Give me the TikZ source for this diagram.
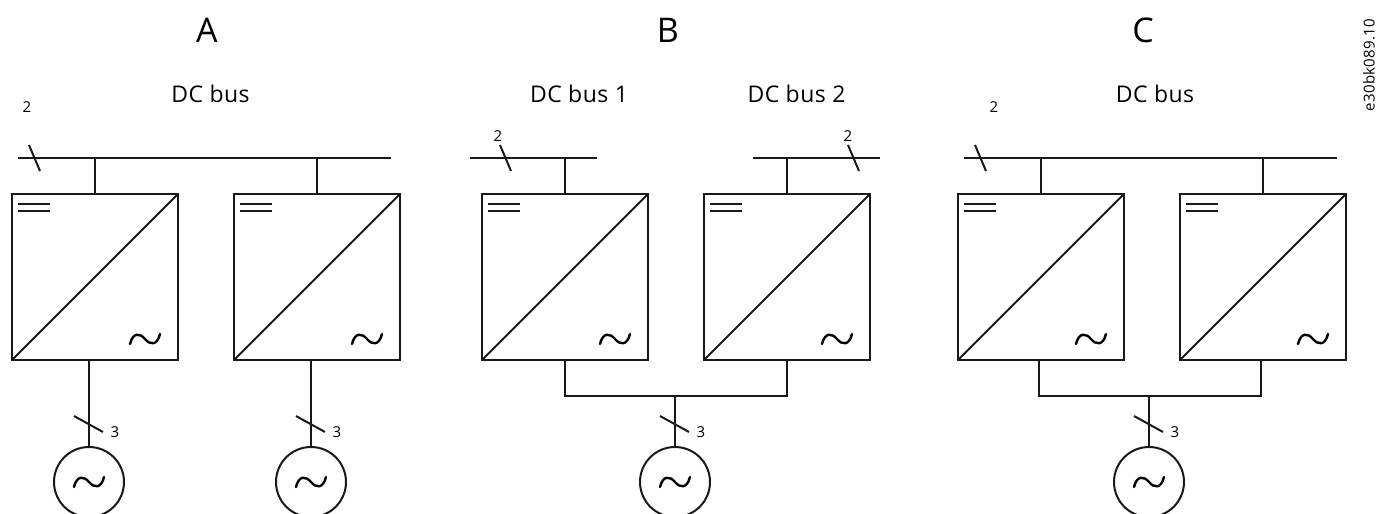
\documentclass[tikz,border=0pt]{standalone}
\usepackage{fontspec}
\setmainfont{Open Sans}
\newfontfamily\spacedfont[LetterSpace=2]{Open Sans}
\tikzset{
  x=0.5pt,y=-0.5pt,
  wire/.style={draw=black!90,line width=1pt},
  conv/.style={wire,rectangle,minimum width=83pt,minimum height=83pt,inner sep=0pt,outer sep=0pt},
  gen/.style={wire,circle,minimum size=35pt,inner sep=0pt,outer sep=0pt},
  tiny/.style={font=\fontsize{7.5}{9}\selectfont,inner sep=0pt},
  buslabel/.style={font=\spacedfont\fontsize{11.5}{13}\selectfont,inner sep=0pt,anchor=base},
  panel/.style={font=\fontsize{17}{19}\selectfont,inner sep=0pt,anchor=base},
  tilde/.pic={\draw[draw=black,line width=1.2pt,line cap=round] (-15,5) .. controls (-12,-7) and (-5,-6) .. (0,0) .. controls (5,6) and (12,7) .. (15,-5);}
}
\newcommand{\convbox}[2]{% name, left x
  \node[conv] (#1) at (#2+83,277) {};
  \draw[wire] (#1.south west) -- (#1.north east);
  \draw[wire] (#2+6,204) -- (#2+38,204);
  \draw[wire] (#2+6,211) -- (#2+38,211);
  \pic at (#2+133,339) {tilde};
}
\newcommand{\gener}[2]{% name, centre x
  \node[gen] (#1) at (#2,482) {};
  \pic at (#2,482) {tilde};
  \coordinate (#1sa) at (#2-15,416);
  \coordinate (#1sb) at (#2+14,432);
  \draw[wire] (#1sa) -- (#1sb);
  \node[tiny] (#1t) at (#2+26,432) {3};
}
\newcommand{\busslash}[4]{% name, x of slash top, x of label, y of label
  \coordinate (#1a) at (#2,145);
  \coordinate (#1b) at (#2+11,171);
  \draw[wire] (#1a) -- (#1b);
  \node[tiny] (#1t) at (#3,#4) {2};
}
\begin{document}
\begin{tikzpicture}
\useasboundingbox (0,0) rectangle (1377,514);
\begin{scope}
\clip (0,0) rectangle (1377,514);
% panel A
\node[panel] (la) at (207,42) {A};
\node[buslabel] (ba) at (210.5,102) {DC bus};
\coordinate (a0) at (18,158); \coordinate (a1) at (391,158);
\draw[wire] (a0) -- (a1);
\busslash{sa}{29}{27}{107}
\convbox{a2}{12}
\convbox{a3}{234}
\coordinate (a2s) at (95,158); \coordinate (a3s) at (317,158);
\draw[wire] (a2s) -- (a2s |- a2.north);
\draw[wire] (a3s) -- (a3s |- a3.north);
\gener{ga}{89}
\gener{gb}{311}
\draw[wire] (ga.north) -- (ga.north |- a2.south);
\draw[wire] (gb.north) -- (gb.north |- a3.south);
% panel B
\node[panel] (lb) at (668,42) {B};
\node[buslabel] (bb1) at (579,102) {DC bus 1};
\node[buslabel] (bb2) at (796.5,102) {DC bus 2};
\coordinate (b0) at (470,158); \coordinate (b1) at (597,158);
\coordinate (b2) at (753,158); \coordinate (b3) at (880,158);
\draw[wire] (b0) -- (b1);
\draw[wire] (b2) -- (b3);
\busslash{sb}{500}{498}{136}
\busslash{sc}{848}{848}{136}
\convbox{b4}{482}
\convbox{b5}{704}
\coordinate (b4s) at (565,158); \coordinate (b5s) at (787,158);
\draw[wire] (b4s) -- (b4s |- b4.north);
\draw[wire] (b5s) -- (b5s |- b5.north);
\gener{gc}{675}
\coordinate (b6) at (565,396); \coordinate (b7) at (787,396);
\draw[wire,line join=miter] (b6 |- b4.south) -- (b6) -- (b7) -- (b7 |- b5.south);
\draw[wire] (gc.north) -- (gc.north |- b6);
% panel C
\node[panel] (lc) at (1143,42) {C};
\node[buslabel] (bc) at (1155,102) {DC bus};
\coordinate (c0) at (964,158); \coordinate (c1) at (1337,158);
\draw[wire] (c0) -- (c1);
\busslash{sd}{975}{994}{107}
\convbox{c2}{958}
\convbox{c3}{1180}
\coordinate (c2s) at (1041,158); \coordinate (c3s) at (1263,158);
\draw[wire] (c2s) -- (c2s |- c2.north);
\draw[wire] (c3s) -- (c3s |- c3.north);
\gener{gd}{1149}
\coordinate (c6) at (1039,396); \coordinate (c7) at (1261,396);
\draw[wire,line join=miter] (c6 |- c2.south) -- (c6) -- (c7) -- (c7 |- c3.south);
\draw[wire] (gd.north) -- (gd.north |- c6);
\end{scope}
\node[rotate=90,font=\spacedfont\fontsize{7.5}{9}\selectfont,inner sep=0pt] (code) at (1369,65) {e30bk089.10};
\end{tikzpicture}
\end{document}
